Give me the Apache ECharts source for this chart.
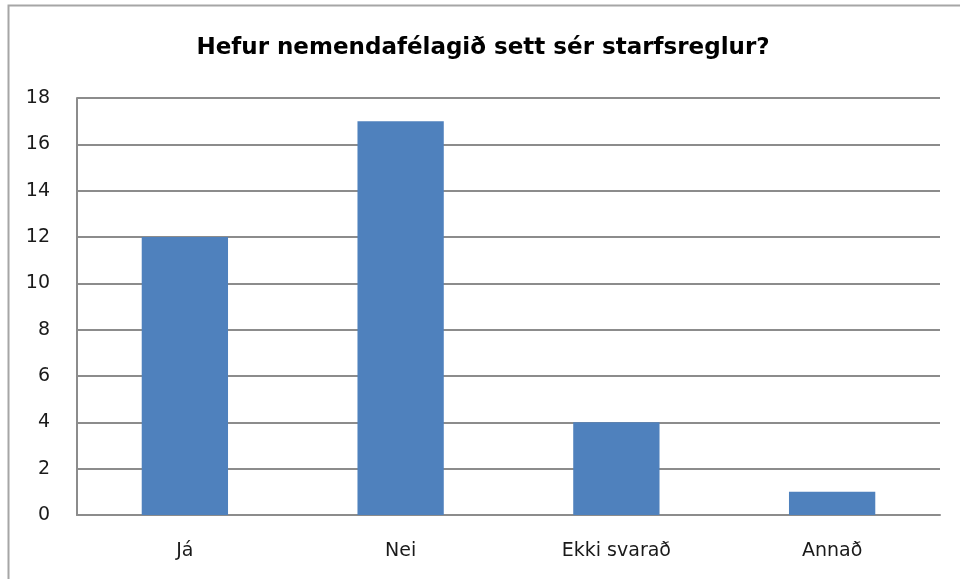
<!DOCTYPE html>
<html>
<head>
<meta charset="utf-8">
<script src="https://cdn.jsdelivr.net/npm/echarts@6/dist/echarts.min.js"></script>
<style>
  html, body { margin: 0; padding: 0; background: #fff; }
  #chart { width: 960px; height: 579px; }
</style>
</head>
<body>
<div id="chart"></div>
<script>
// gögn úr myndinni
var titleText = 'Hefur nemendafélagið sett sér starfsreglur?';
var categories = ['Já', 'Nei', 'Ekki svarað', 'Annað'];
var values = [12, 17, 4, 1];

var chart = echarts.init(document.getElementById('chart'));

var option = {
    backgroundColor: '#fff',
    animation: false,
    title: {
        text: titleText,
        left: 478,
        textAlign: 'center',
        top: 32,
        textStyle: {
            fontFamily: 'DejaVu Sans',
            fontWeight: 'bold',
            fontSize: 23,
            color: '#000'
        }
    },
    // ramminn utan um myndina (aðeins efri og vinstri brún sjást)
    graphic: [{
        type: 'rect',
        shape: { x: 8.5, y: 5.5, width: 1000, height: 1000 },
        style: { fill: 'none', stroke: '#a6a6a6', lineWidth: 2 },
        silent: true
    }],
    grid: {
        left: 77,
        right: 20,
        top: 98,
        bottom: 64
    },
    xAxis: {
        type: 'category',
        data: categories,
        axisLine: { lineStyle: { color: '#8c8c8c', width: 2 } },
        axisTick: { show: false },
        axisLabel: {
            margin: 27,
            fontFamily: 'DejaVu Sans',
            fontSize: 19,
            color: '#1a1a1a'
        }
    },
    yAxis: {
        type: 'value',
        min: 0,
        max: 18,
        interval: 2,
        axisLine: { show: true, lineStyle: { color: '#8c8c8c', width: 2 } },
        axisTick: { show: false },
        splitLine: { lineStyle: { color: '#8c8c8c', width: 2 } },
        axisLabel: {
            margin: 27,
            fontFamily: 'DejaVu Sans',
            fontSize: 19,
            color: '#1a1a1a'
        }
    },
    series: [{
        type: 'bar',
        data: values,
        barWidth: '40%',
        itemStyle: { color: '#4f81bd' }
    }]
};

chart.setOption(option);
</script>
</body>
</html>
